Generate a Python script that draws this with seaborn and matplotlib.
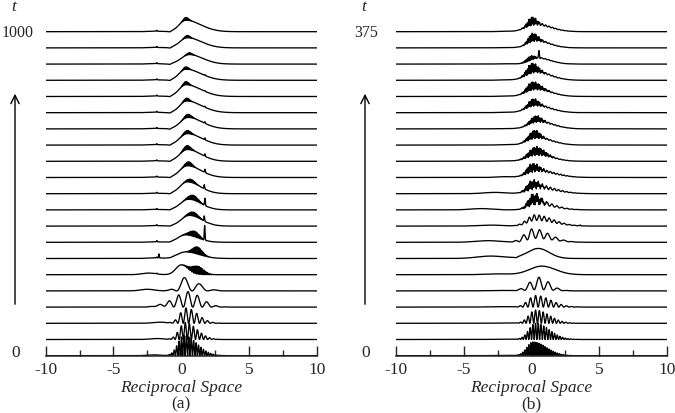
import numpy as np
import pandas as pd
import matplotlib
matplotlib.use("Agg")
import matplotlib.pyplot as plt
import seaborn as sns

# reciprocal-space axis, ticks and t labels
x_ticks = [-10, -5, 0, 5, 10]
x_minor = [-7.5, -2.5, 2.5, 7.5]
t_top_a, t_top_b = "1000", "375"
panel_names = ["(a)", "(b)"]

# ---- panel (a): one value per trace, bottom (t=0) to top (t=1000) ----
a_hump_amp = [0, 0, 0, 0, 0, 0.6, 0.4, 0.45, 0.65, 0.65, 0.72, 0.72, 0.72, 0.7, 0.7, 0.72, 0.72, 0.68, 0.58, 0.62, 0.7]
a_hump_cen = [0, 0, 0, 0, 0, 0.0, 0.3, 0.3, 0.6, 0.55, 0.45, 0.45, 0.45, 0.45, 0.5, 0.4, 0.35, 0.35, 0.6, 0.45, 0.35]
a_hump_wl = [1, 1, 1, 1, 1, 0.4, 0.6, 0.55, 0.6, 0.6, 0.55, 0.55, 0.55, 0.55, 0.55, 0.5, 0.5, 0.5, 0.6, 0.55, 0.5]
a_hump_wr = [1, 1, 1, 1, 1, 0.5, 1.0, 0.9, 0.9, 0.9, 0.95, 1.0, 1.0, 1.05, 1.05, 1.1, 1.1, 1.1, 1.0, 1.05, 1.1]
a_rip_amp = [0] * 21
a_rip_per = [1] * 21
a_fr_amp = [1.25, 1.05, 0.95, 0.95, 0.82, 0.5, 0.45, 0.35, 0.25, 0.3, 0.2, 0.25, 0.25, 0.2, 0.2, 0.18, 0.2, 0.15, 0.12, 0.15, 0.18]
a_fr_cen = [0.2, 0.3, 0.35, 0.5, 0.23, 1.2, 1.2, 1.0, 0.9, 0.9, 0.7, 0.55, 0.45, 0.45, 0.5, 0.4, 0.35, 0.35, 0.6, 0.45, 0.35]
a_fr_wl = [0.45, 0.45, 0.45, 1.0, 0.5, 0.45, 0.35, 0.4, 0.35, 0.35, 0.3, 0.25, 0.25, 0.25, 0.25, 0.2, 0.2, 0.2, 0.2, 0.2, 0.2]
a_fr_wr = [0.95, 0.85, 0.85, 0.95, 1.0, 0.45, 0.35, 0.35, 0.35, 0.35, 0.3, 0.25, 0.25, 0.25, 0.25, 0.2, 0.2, 0.2, 0.2, 0.2, 0.2]
a_fr_per = [0.18, 0.3, 0.4, 0.7, 1.15, 0.12, 0.1, 0.1, 0.1, 0.1, 0.1, 0.08, 0.08, 0.08, 0.08, 0.08, 0.08, 0.08, 0.08, 0.08, 0.08]
a_side_amp = [0.05, 0.06, 0.07, 0.06, 0.1, 0.1, 0.04, 0.03, 0.03, 0.03, 0.03, 0.03, 0.03, 0.03, 0.03, 0.03, 0.03, 0.03, 0.03, 0.03, 0.03]
a_side_cen = [-2.0, -1.8, -1.6, -1.5, -2.5, -2.4, -2.0, -2.0, -2.0, -2.0, -2.0, -2.0, -2.0, -2.0, -2.0, -2.0, -2.0, -2.0, -2.0, -2.0, -2.0]
a_side_wid = [0.5] * 21
a_dip_amp = [0, 0, 0, 0, 0, 0, 0.02, 0.03, 0.04, 0.04, 0.05, 0.05, 0.05, 0.05, 0.05, 0.05, 0.05, 0.05, 0.05, 0.05, 0.05]
a_dip_x = [-0.85] * 21
a_spike_h = [0, 0, 0, 0, 0, 0, 0.25, 0.9, 0.3, 0.45, 0.25, 0.2, 0.15, 0.12, 0.1, 0.06, 0.05, 0.05, 0, 0, 0]
a_spike_x = [0, 0, 0, 0, 0, 0, -1.65, 1.73, 1.7, 1.75, 1.7, 1.75, 1.75, 1.75, 1.75, 1.75, 1.75, 1.75, 1.75, 1.75, 1.75]
a_tick_h = [0, 0, 0, 0, 0, 0.05, 0.05, 0.08, 0.06, 0.06, 0.06, 0.06, 0.06, 0.06, 0.06, 0.06, 0.06, 0.06, 0.06, 0.06, 0.06]
a_tick_x = [-1.8] * 21

# ---- panel (b): bottom (t=0) to top (t=375) ----
b_hump_amp = [0, 0, 0, 0, 0.08, 0.53, 0.62, 0.25, 0.35, 0.3, 0.3, 0.35, 0.35, 0.4, 0.4, 0.4, 0.4, 0.45, 0.35, 0.4, 0.4]
b_hump_cen = [0, 0, 0, 0, 0.5, 0.75, 0.5, 0.3, 0.3, 0.4, 0.5, 0.4, 0.4, 0.4, 0.5, 0.3, 0.3, 0.3, 0.5, 0.3, 0.3]
b_hump_wl = [1, 1, 1, 1, 0.8, 0.9, 0.8, 0.6, 0.6, 0.6, 0.7, 0.7, 0.7, 0.7, 0.7, 0.7, 0.7, 0.7, 0.6, 0.6, 0.7]
b_hump_wr = [1, 1, 1, 1, 1.0, 1.0, 0.8, 1.2, 1.3, 1.2, 1.3, 1.3, 1.1, 1.1, 1.1, 1.1, 1.1, 1.1, 0.9, 1.0, 1.1]
b_rip_amp = [0, 0, 0, 0, 0, 0, 0, 0, 0, 0.25, 0.2, 0.15, 0.12, 0.1, 0.1, 0.1, 0.1, 0.12, 0.05, 0.1, 0.12]
b_rip_per = [1, 1, 1, 1, 1, 1, 1, 1, 1, 0.37, 0.3, 0.25, 0.25, 0.25, 0.25, 0.25, 0.25, 0.25, 0.25, 0.25, 0.25]
b_fr_amp = [0.85, 1.0, 0.82, 0.72, 0.76, 0, 0, 0.6, 0.35, 0.55, 0.45, 0.45, 0.45, 0.45, 0.35, 0.4, 0.45, 0.55, 0.25, 0.45, 0.45]
b_fr_cen = [0.1, 0.3, 0.3, 0.3, 0.55, 0, 0, 0.0, 0.2, 0.1, 0.0, 0.0, 0.3, 0.2, 0.3, 0.1, 0.0, 0.0, -0.1, 0.05, 0.0]
b_fr_wl = [0.45, 0.5, 0.5, 0.55, 0.7, 1, 1, 0.6, 0.6, 0.35, 0.35, 0.35, 0.5, 0.4, 0.4, 0.35, 0.35, 0.35, 0.3, 0.3, 0.3]
b_fr_wr = [1.0, 1.0, 1.0, 1.1, 0.75, 1, 1, 1.2, 1.3, 0.5, 0.5, 0.5, 0.6, 0.4, 0.4, 0.4, 0.6, 0.45, 0.3, 0.4, 0.35]
b_fr_per = [0.15, 0.2, 0.28, 0.38, 0.7, 1, 1, 0.6, 0.37, 0.1, 0.1, 0.1, 0.1, 0.1, 0.1, 0.1, 0.1, 0.1, 0.1, 0.1, 0.1]
b_side_amp = [0.02, 0.02, 0.02, 0.03, 0.03, 0.05, 0.15, 0.1, 0.06, 0.08, 0.08, 0.05, 0.03, 0.02, 0.02, 0.02, 0.02, 0.02, 0.02, 0.02, 0.02]
b_side_cen = [-2.0, -2.0, -2.0, -2.5, -2.5, -2.5, -3.0, -3.2, -3.0, -3.7, -2.7, -2.0, -2.0, -2.0, -2.0, -2.0, -2.0, -2.0, -2.0, -2.0, -2.0]
b_side_wid = [0.8, 0.8, 0.8, 0.8, 0.8, 0.9, 1.0, 0.9, 0.9, 0.8, 0.8, 0.6, 0.6, 0.6, 0.6, 0.6, 0.6, 0.6, 0.6, 0.6, 0.6]
b_dip_amp = [0, 0, 0, 0, 0, 0, 0.05, 0, 0, 0, 0, 0, 0, 0, 0, 0, 0, 0, 0, 0, 0]
b_dip_x = [-1.15] * 21
b_spike_h = [0, 0, 0, 0, 0, 0, 0, 0, 0.05, 0, 0, 0, 0, 0, 0, 0, 0, 0, 0.45, 0, 0]
b_spike_x = [0, 0, 0, 0, 0, 0, 0, 0, 3.6, 0, 0, 0, 0, 0, 0, 0, 0, 0, 0.55, 0, 0]
b_tick_h = [0] * 21
b_tick_x = [0] * 21

x = np.linspace(-10, 10, 4001)


def asym(x, c, wl, wr):
    w = np.where(x < c, wl, wr)
    return np.exp(-0.5 * ((x - c) / w) ** 2)


def panel_frame(p):
    rows = []
    for i in range(21):
        hump = asym(x, p["hump_cen"][i], p["hump_wl"][i], p["hump_wr"][i])
        y = p["hump_amp"][i] * hump
        y += p["rip_amp"][i] * hump * np.cos(np.pi * (x - p["hump_cen"][i]) / p["rip_per"][i]) ** 2
        env = asym(x, p["fr_cen"][i], p["fr_wl"][i], p["fr_wr"][i])
        y += p["fr_amp"][i] * env * np.cos(np.pi * (x - p["fr_cen"][i]) / p["fr_per"][i]) ** 2
        y += p["side_amp"][i] * np.exp(-0.5 * ((x - p["side_cen"][i]) / p["side_wid"][i]) ** 2)
        y -= p["dip_amp"][i] * np.exp(-0.5 * ((x - p["dip_x"][i]) / 0.1) ** 2)
        y += p["spike_h"][i] * np.exp(-0.5 * ((x - p["spike_x"][i]) / 0.025) ** 2)
        y += p["tick_h"][i] * np.exp(-0.5 * ((x - p["tick_x"][i]) / 0.025) ** 2)
        rows.append(pd.DataFrame({"x": x, "y": y + i, "trace": i}))
    return pd.concat(rows, ignore_index=True)


keys = ["hump_amp", "hump_cen", "hump_wl", "hump_wr", "rip_amp", "rip_per", "fr_amp", "fr_cen",
        "fr_wl", "fr_wr", "fr_per", "side_amp", "side_cen", "side_wid", "dip_amp", "dip_x",
        "spike_h", "spike_x", "tick_h", "tick_x"]
pa = {k: globals()["a_" + k] for k in keys}
pb = {k: globals()["b_" + k] for k in keys}

sns.set_style("ticks")
plt.rcParams["font.family"] = ["Liberation Serif", "DejaVu Serif"]
plt.rcParams["axes.unicode_minus"] = False
fs = 12.5

W, H = 675, 414
fig = plt.figure(figsize=(6.75, 4.14), dpi=100)

for k, (p, left_px, top_lab) in enumerate([(pa, 45.7, t_top_a), (pb, 396, t_top_b)]):
    ax = fig.add_axes([left_px / W, (H - 356.7) / H, 271 / W, 346.7 / H])
    df = panel_frame(p)
    sns.lineplot(data=df, x="x", y="y", units="trace", estimator=None, sort=False,
                 color="black", linewidth=0.95, ax=ax)
    ax.set_xlim(-10, 10)
    ax.set_ylim(0, 21.4)
    ax.set_xticks(x_ticks)
    ax.set_xticks(x_minor, minor=True)
    ax.set_yticks([])
    ax.set_ylabel("")
    ax.tick_params(axis="x", which="major", direction="in", length=7, width=1, pad=4, labelsize=fs)
    ax.tick_params(axis="x", which="minor", direction="in", length=4, width=1)
    for s in ["left", "top", "right"]:
        ax.spines[s].set_visible(False)
    ax.spines["bottom"].set_linewidth(1.1)
    ax.set_xlabel("Reciprocal Space", fontstyle="italic", fontsize=fs, labelpad=1)
    ax.patch.set_alpha(0)

    cx = left_px + 135.5
    fig.text(cx / W, 1 - 404 / H, panel_names[k], ha="center", va="center", fontsize=fs)

    ox = 0 if k == 0 else 350
    fig.text((ox + 14) / W, 1 - 7 / H, "t", ha="center", va="center", fontstyle="italic", fontsize=fs)
    fig.text((ox + 33.5 + (0 if k == 0 else -5)) / W, 1 - 33 / H, top_lab, ha="right", va="center", fontsize=11.5)
    fig.text((ox + 16) / W, 1 - 353 / H, "0", ha="center", va="center", fontsize=fs)
    arrow_x = (ox + 15) / W
    fig.add_artist(matplotlib.patches.FancyArrowPatch(
        (arrow_x, 1 - 308 / H), (arrow_x, 1 - 92 / H), transform=fig.transFigure,
        arrowstyle="->,head_length=6,head_width=3", color="black", linewidth=1))

fig.savefig("out.png", dpi=100)
